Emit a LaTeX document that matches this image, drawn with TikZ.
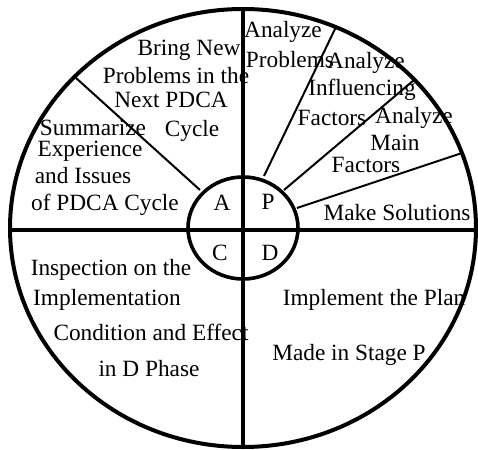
\documentclass[tikz,border=0pt]{standalone}
\usepackage{fontspec}
\setmainfont{Liberation Serif}
\begin{document}
\begin{tikzpicture}[x=0.5pt, y=-0.5pt,
    lbl/.style={inner sep=0pt, font=\fontsize{11.65}{13}\selectfont}]

    \useasboundingbox (0,0) rectangle (478,450);

    % === OUTER RING AND AXES ===
    \draw[line width=2pt, black, fill=white] (243,228) ellipse [x radius=233, y radius=219];
    \draw[line width=1.6pt, black] (243,9) -- (243,447);
    \draw[line width=1.6pt, black] (10,230) -- (476,230);

    % === RADIAL DIVIDERS ===
    % A quadrant
    \draw[line width=1pt, black] (200,190) -- (76,78);
    % P quadrant
    \draw[line width=1pt, black] (264,176) -- (336,27);
    \draw[line width=1pt, black] (284,190) -- (414,80);
    \draw[line width=1pt, black] (297,208) -- (462,153);

    % === INNER CIRCLE ===
    \draw[line width=1.8pt, black] (243,228) ellipse [x radius=55, y radius=51];

    % === PHASE LETTERS ===
    \node[lbl] (phaseA) at (222,203) {A};
    \node[lbl] (phaseP) at (268,202) {P};
    \node[lbl] (phaseC) at (220,253) {C};
    \node[lbl] (phaseD) at (270,253) {D};

    % === A QUADRANT ===
    \node[lbl] (newA) at (189,50) {Bring New};
    \node[lbl] (newB) at (176,76) {Problems in the};
    \node[lbl] (newC) at (171,100) {Next PDCA};
    \node[lbl] (newD) at (192,131) {Cycle};

    \node[lbl] (sumA) at (93,128) {Summarize};
    \node[lbl] (sumB) at (90,151) {Experience};
    \node[lbl] (sumC) at (83,176) {and Issues};
    \node[lbl] (sumD) at (105,205) {of PDCA Cycle};

    % === P QUADRANT ===
    \node[lbl] (probA) at (283,32) {Analyze};
    \node[lbl] (probB) at (290,60) {Problems};

    \node[lbl] (inflA) at (366,63) {Analyze};
    \node[lbl] (inflB) at (362,90) {Influencing};
    \node[lbl] (inflC) at (332,118) {Factors};

    \node[lbl] (mainA) at (414,118) {Analyze};
    \node[lbl] (mainB) at (395,143) {Main};
    \node[lbl] (mainC) at (366,165) {Factors};

    \node[lbl] (solve) at (397,213) {Make Solutions};

    % === C QUADRANT ===
    \node[lbl] (checkA) at (111,270) {Inspection on the};
    \node[lbl] (checkB) at (107,300) {Implementation};
    \node[lbl] (checkC) at (151,332) {Condition and Effect};
    \node[lbl] (checkD) at (149,369) {in D Phase};

    % === D QUADRANT ===
    \node[lbl] (doA) at (374,300) {Implement the Plan};
    \node[lbl] (doB) at (349,355) {Made in Stage P};

\end{tikzpicture}
\end{document}
